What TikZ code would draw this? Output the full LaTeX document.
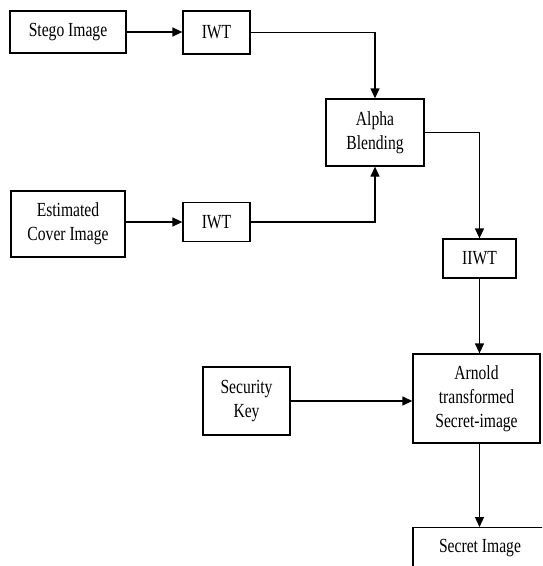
\documentclass[tikz,border=0pt]{standalone}
\usepackage{fontspec}
\setmainfont{Liberation Serif}[FakeStretch=0.78]
\usetikzlibrary{arrows.meta}

\begin{document}
\begin{tikzpicture}[x=1pt,y=-1pt,>={Triangle[length=10pt,width=9pt]}, font=\fontsize{20}{24}\selectfont, line join=miter,
	box/.style={draw, line width=1.3pt, align=center, inner sep=3pt},
	flow/.style={->, line width=1.3pt}]
	\useasboundingbox (0,0) rectangle (542,566);
	\clip (0,0) rectangle (542,566);
	\node[box, minimum width=116, minimum height=42] (stego) at (68,32) {Stego Image};
	\node[box, minimum width=67, minimum height=43] (iwtA) at (216.5,32.5) {IWT};
	\node[box, minimum width=98, minimum height=67] (alpha) at (375,132.5) {Alpha\\Blending};
	\node[box, minimum width=114, minimum height=66] (cover) at (68,224) {Estimated\\Cover Image};
	\node[box, minimum width=67, minimum height=39] (iwtB) at (216.5,222) {IWT};
	\node[box, minimum width=73, minimum height=39] (iiwt) at (479.5,258.5) {IIWT};
	\node[box, minimum width=87, minimum height=68] (key) at (246.5,401) {Security\\Key};
	\node[box, minimum width=127, minimum height=89] (arnold) at (476.5,398.5) {Arnold\\transformed\\Secret-image};
	\node[box, anchor=north, minimum width=134, text height=22, text depth=60] (secret) at (480,527) {Secret Image};
	\draw[flow] (stego.east) -- (stego.east -| iwtA.west);
	\draw[flow] (iwtA.east) -| (alpha.north);
	\draw[flow] (iwtB.west -| cover.east) -- (iwtB.west);
	\draw[flow] (iwtB.east) -| (alpha.south);
	\draw[flow] (alpha.east) -| (iiwt.north);
	\draw[flow] (iiwt.south) -- (iiwt.south |- arnold.north);
	\draw[flow] (key.east) -- (key.east -| arnold.west);
	\draw[flow] (iiwt.south |- arnold.south) -- (iiwt.south |- secret.north);
\end{tikzpicture}
\end{document}
